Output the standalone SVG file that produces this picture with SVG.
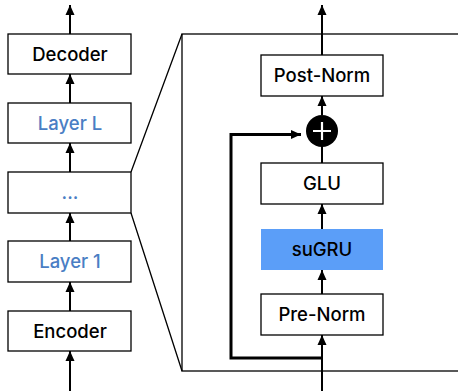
<svg xmlns="http://www.w3.org/2000/svg" width="458" height="391" viewBox="0 0 458 391">
<defs>
<marker id="ah" markerUnits="userSpaceOnUse" markerWidth="10" markerHeight="10" refX="10" refY="5" orient="auto">
<path d="M0,0.5 L10,5 L0,9.5 z" fill="#000"/>
</marker>
<style>
.box{fill:#fff;stroke:#000;stroke-width:1.3}
.t{font-family:Inter,"Liberation Sans",Arial,sans-serif;font-weight:500;font-size:18.5px;text-anchor:middle;fill:#000}
.b{fill:#4a7ec4}
.c{stroke:#000;stroke-width:2;fill:none}
.thin{stroke:#000;stroke-width:1.3;fill:none}
</style>
</defs>
<rect width="458" height="391" fill="#fff"/>
<g id="zoom-frame">
<rect x="182" y="34" width="300" height="337" class="thin"/>
<path d="M131,172 L182,34 M131,213 L182,371" class="thin"/>
</g>
<g id="connectors">
<path d="M70,34 V5" class="c" marker-end="url(#ah)"/>
<path d="M70,103 V74" class="c" marker-end="url(#ah)"/>
<path d="M70,172 V143" class="c" marker-end="url(#ah)"/>
<path d="M70,241 V213" class="c" marker-end="url(#ah)"/>
<path d="M70,311 V282" class="c" marker-end="url(#ah)"/>
<path d="M70,391 V351" class="c" marker-end="url(#ah)"/>
<path d="M322,55 V5" class="c" marker-end="url(#ah)"/>
<path d="M322,115 V96" class="c" marker-end="url(#ah)"/>
<path d="M322,163 V146" class="c"/>
<path d="M322,229 V204" class="c" marker-end="url(#ah)"/>
<path d="M322,294 V270" class="c" marker-end="url(#ah)"/>
<path d="M322,391 V335" class="c" marker-end="url(#ah)"/>
<path d="M322,358 H231 V134.5 H301" stroke="#000" stroke-width="3" fill="none" stroke-linejoin="miter" marker-end="url(#ah)"/>
</g>
<g id="decoder"><rect x="8" y="34" width="123" height="40" class="box"/><text x="70" y="61" class="t">Decoder</text></g>
<g id="layer-l"><rect x="8" y="103" width="123" height="40" class="box"/><text x="70" y="130" class="t b">Layer L</text></g>
<g id="dots"><rect x="8" y="172" width="123" height="41" class="box"/><text x="70" y="199" class="t b">...</text></g>
<g id="layer-1"><rect x="8" y="241" width="123" height="41" class="box"/><text x="70" y="268" class="t b">Layer 1</text></g>
<g id="encoder"><rect x="8" y="311" width="123" height="40" class="box"/><text x="70" y="338" class="t">Encoder</text></g>
<g id="post-norm"><rect x="261" y="55" width="122" height="41" class="box"/><text x="322" y="82" class="t">Post-Norm</text></g>
<g id="add"><circle cx="322" cy="131" r="16" fill="#000"/><path d="M313,131 H331 M322,122 V140" stroke="#fff" stroke-width="2.2"/></g>
<g id="glu"><rect x="261" y="163" width="122" height="41" class="box"/><text x="322" y="190" class="t">GLU</text></g>
<g id="sugru"><rect x="261" y="229" width="122" height="41" fill="#5b9ef8"/><text x="322" y="256" class="t">suGRU</text></g>
<g id="pre-norm"><rect x="261" y="294" width="122" height="41" class="box"/><text x="322" y="321" class="t">Pre-Norm</text></g>
</svg>
